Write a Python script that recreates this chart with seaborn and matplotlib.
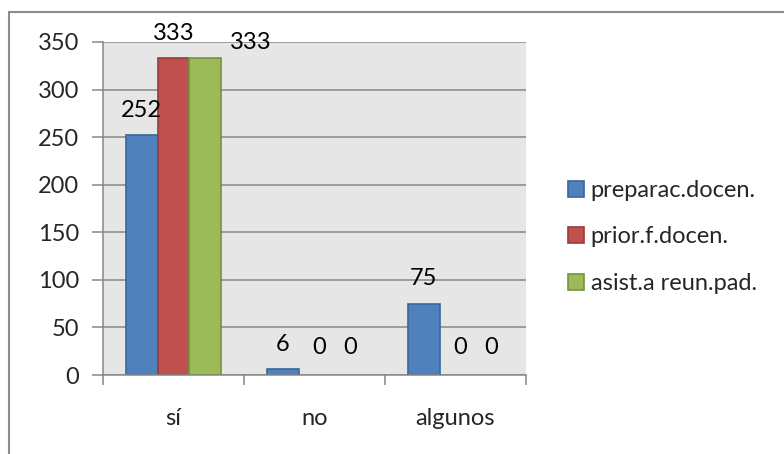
import matplotlib
matplotlib.use("Agg")
import matplotlib.pyplot as plt
import pandas as pd
import seaborn as sns
from matplotlib.patches import Rectangle

categories = ["sí", "no", "algunos"]
series_names = ["preparac.docen.", "prior.f.docen.", "asist.a reun.pad."]
preparac = [252, 6, 75]
prior = [333, 0, 0]
asist = [333, 0, 0]

colors = ["#4f81bd", "#c0504d", "#9bbb59"]
edges = ["#3a6699", "#963c3a", "#76923c"]

rows = []
for name, vals in zip(series_names, [preparac, prior, asist]):
    for cat, v in zip(categories, vals):
        rows.append({"cat": cat, "serie": name, "valor": v})
df = pd.DataFrame(rows)

sns.set_theme(style="white")
plt.rcParams["font.family"] = ["Lato", "DejaVu Sans"]
FS = 17

fig = plt.figure(figsize=(7.84, 4.54), dpi=100)
ax = fig.add_axes([0.1314, 0.174, 0.5395, 0.7335])

sns.barplot(data=df, x="cat", y="valor", hue="serie", order=categories,
            hue_order=series_names, palette=colors, width=0.675, gap=0,
            saturation=1, ax=ax, legend=True)

for cont, ec in zip(ax.containers, edges):
    for bar in cont:
        bar.set_edgecolor(ec)
        bar.set_linewidth(1.2)
        if bar.get_height() == 0:
            bar.set_linewidth(0)

# data labels
for i, cont in enumerate(ax.containers):
    for j, bar in enumerate(cont):
        x = bar.get_x() + bar.get_width() / 2
        dx, dy = 0, 18
        if i == 2 and j == 0:
            dx, dy = 33, 11
        elif bar.get_height() == 0:
            dx, dy = 3, 20
        ax.annotate(f"{int(bar.get_height())}", (x, bar.get_height()),
                    xytext=(dx, dy), textcoords="offset points",
                    ha="center", va="center", fontsize=FS, color="black",
                    annotation_clip=False)

ax.set_facecolor("#e6e6e6")
ax.set_xlim(-0.5, 2.5)
ax.set_ylim(0, 350)
ax.set_yticks(range(0, 351, 50))
ax.yaxis.grid(True, color="#878787", linewidth=1.1)
ax.set_axisbelow(True)
ax.set_xlabel("")
ax.set_ylabel("")

for side in ["top", "right"]:
    ax.spines[side].set_visible(False)
for side in ["left", "bottom"]:
    ax.spines[side].set_color("#878787")
    ax.spines[side].set_linewidth(1.1)

ax.tick_params(axis="y", direction="out", length=8, width=1.1, color="#878787",
               pad=9, labelsize=FS, left=True)
ax.tick_params(axis="x", which="major", length=0, pad=24, labelsize=FS)
ax.set_xticks([-0.5, 0.5, 1.5, 2.5], minor=True)
ax.tick_params(axis="x", which="minor", direction="out", length=7, width=1.1,
               color="#878787", bottom=True)

handles, labels = ax.get_legend_handles_labels()
for h, ec in zip(handles, edges):
    h.set_edgecolor(ec)
    h.set_linewidth(1.2)
ax.legend(handles, labels, loc="center left", bbox_to_anchor=(0.713, 0.478),
          bbox_transform=fig.transFigure, frameon=False, fontsize=FS,
          handlelength=0.65, handleheight=0.65, handletextpad=0.3,
          labelspacing=1.08, borderaxespad=0)

fig.patches.append(Rectangle((9 / 784, -0.05), 1.2, 1 - 12 / 454 + 0.05,
                             transform=fig.transFigure, fill=False,
                             edgecolor="#8c8c8c", linewidth=1.5))

fig.savefig("out.png", dpi=100)
